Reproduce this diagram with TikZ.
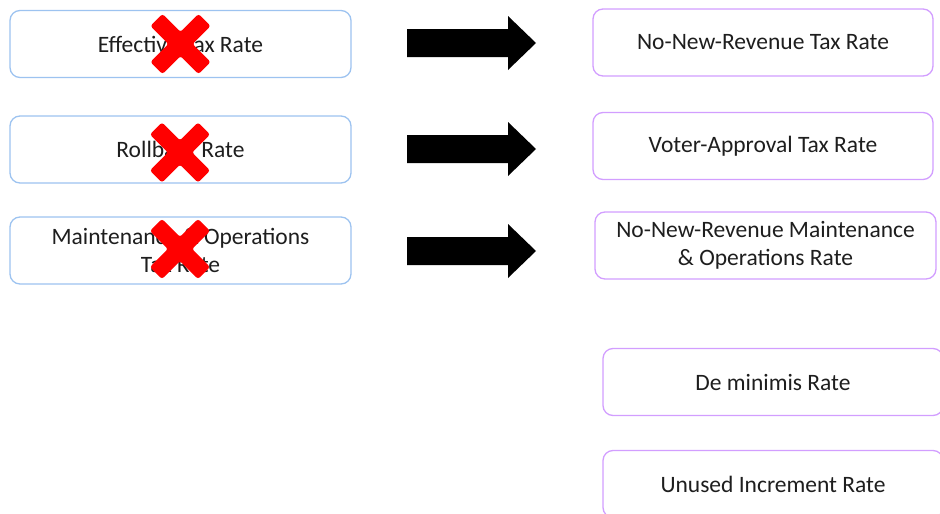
\documentclass[tikz,border=0pt]{standalone}
\usepackage{fontspec}
\setmainfont{Carlito}
\definecolor{lblue}{HTML}{9DC3F0}
\definecolor{lpurple}{HTML}{D29EFF}
\definecolor{txt}{HTML}{1E1E1E}
\definecolor{xred}{HTML}{FF0000}
\tikzset{
  box/.style={draw, line width=1.3pt, rounded corners=10pt, fill=white, text=txt,
    align=center, inner sep=0pt, font=\fontsize{23.5}{28.5}\selectfont},
  lbox/.style={box, draw=lblue, minimum width=341pt, minimum height=67pt},
  rbox/.style={box, draw=lpurple, minimum width=340pt, minimum height=67pt},
  blockarrow/.style={fill=black},
  redx/.pic={\fill[xred, rounded corners=2.5pt, rotate=45]
    (34,8.5) -- (8.5,8.5) -- (8.5,34) -- (-8.5,34) -- (-8.5,8.5) -- (-34,8.5) --
    (-34,-8.5) -- (-8.5,-8.5) -- (-8.5,-34) -- (8.5,-34) -- (8.5,-8.5) -- (34,-8.5) -- cycle;}
}
\begin{document}
\begin{tikzpicture}[x=1pt,y=-1pt]
\useasboundingbox (0,0) rectangle (940,514);
\clip (0,0) rectangle (940,514);
% left boxes
\node[lbox] (l1) at (180.5,44) {Effective Tax Rate};
\node[lbox] (l2) at (180.5,149.5) {Rollback Rate};
\node[lbox] (l3) at (180.5,250.5) {Maintenance \& Operations\\Tax Rate};
% right boxes
\node[rbox] (r1) at (763,42.5) {No-New-Revenue Tax Rate};
\node[rbox] (r2) at (763,146) {Voter-Approval Tax Rate};
\node[rbox, minimum width=341pt] (r3) at (765.5,245.5) {No-New-Revenue Maintenance\\\& Operations Rate};
\node[rbox] (r4) at (773,382) {De minimis Rate};
\node[rbox] (r5) at (773,484) {Unused Increment Rate};
% red crosses
\pic at (180.5,44) {redx};
\pic at (180,152.5) {redx};
\pic at (180,249) {redx};
% block arrows
\foreach \n/\yy in {a1/43, a2/149, a3/251}{
  \coordinate (\n) at (407,\yy);
  \fill[blockarrow] (\n) ++(0,-14) -- ++(101,0) -- ++(0,-13) -- ++(28,27) -- ++(-28,27)
    -- ++(0,-13) -- ++(-101,0) -- cycle;
}
\end{tikzpicture}
\end{document}
